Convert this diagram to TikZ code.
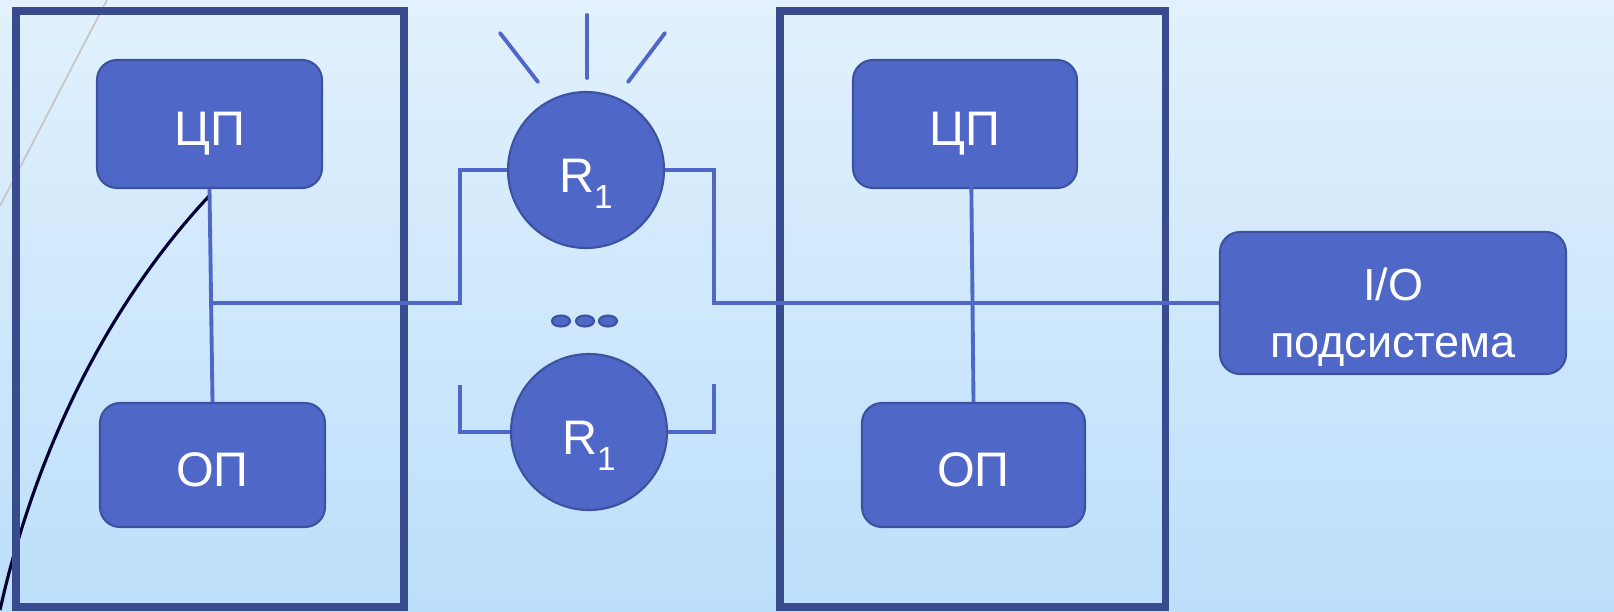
\documentclass[tikz,border=0pt]{standalone}
\usepackage{fontspec}
\setmainfont{Liberation Sans}
\usepackage{xcolor}
\usetikzlibrary{calc}
\definecolor{boxblue}{HTML}{4F67C7}
\definecolor{boxedge}{HTML}{3C52A0}
\definecolor{frameblue}{HTML}{394B8F}
\definecolor{bgtop}{HTML}{E2F1FD}
\definecolor{bgbot}{HTML}{BCDFFB}
\begin{document}
\begin{tikzpicture}[-, box node/.style={rectangle, rounded corners=0.2cm, draw=boxedge, line width=0.6pt, fill=boxblue, text=white, font=\fontsize{13.8}{16}\selectfont, inner sep=0pt, text height=0.42cm, text depth=0pt}, ring node/.style={circle, draw=boxedge, line width=0.6pt, fill=boxblue, text=white, font=\fontsize{13.8}{16}\selectfont, minimum size=1.56cm, inner sep=0pt, text height=0.44cm, text depth=0pt}, wire/.style={draw=boxblue, line width=1.1pt}, frame/.style={draw=frameblue, line width=2pt}]
\useasboundingbox (0,0) rectangle (16.14,6.11);
\shade[top color=bgtop, bottom color=bgbot] (0,0) rectangle (16.14,6.11);
\clip (0,0) rectangle (16.14,6.11);
% slide decoration
\draw[gray!45, line width=0.5pt] (1.07,6.11) .. controls (0.70,5.40) .. (0,4.05);
\draw[black!80!blue, line width=0.9pt] (2.10,4.16) .. controls (1.20,3.20) and (0.40,1.80) .. (0,0.01);
\draw[frame] (0.16,6.00) rectangle (4.04,0.04);
\draw[frame] (7.80,6.00) rectangle (11.65,0.04);
\node[box node, minimum width=2.25cm, minimum height=1.28cm] (c1) at (2.095,4.87) {ЦП};
\node[box node, minimum width=2.25cm, minimum height=1.24cm] (m1) at (2.125,1.46) {ОП};
\node[box node, minimum width=2.24cm, minimum height=1.28cm] (c2) at (9.65,4.87) {ЦП};
\node[box node, minimum width=2.23cm, minimum height=1.24cm] (m2) at (9.735,1.46) {ОП};
\node[box node, minimum width=3.46cm, minimum height=1.42cm, align=center, font=\fontsize{12.8}{16.2}\selectfont, text height=1.08cm] (io) at (13.93,3.08) {I/O\\подсистема};
\node[ring node] (r1) at (5.86,4.41) {R\raisebox{-4.8pt}{\fontsize{9.5}{10}\selectfont 1}};
\node[ring node] (r2) at (5.89,1.79) {R\raisebox{-4.8pt}{\fontsize{9.5}{10}\selectfont 1}};
\coordinate (j1) at (2.095,3.08);
\coordinate (t2) at (9.71,4.58);
\foreach \x in {5.61,5.85,6.08}
  \draw[draw=boxedge, fill=boxblue, line width=0.6pt] (\x,2.90) ellipse (0.09cm and 0.055cm);
\path[wire, line cap=round]
(5.00,5.78) edge (5.38,5.29)
(5.87,5.96) edge (5.87,5.33)
(6.65,5.78) edge (6.28,5.29);
\path[wire]
(c1.south) edge (m1.north)
(t2) edge (m2.north);
\draw[wire] (j1) -- (4.60,3.08) -- (4.60,4.41) -- (r1.west);
\draw[wire] (r1.east) -- (7.14,4.41) -- (7.14,3.08) -- (io.west);
\draw[wire] (4.60,2.26) -- (4.60,1.79) -- (r2.west);
\draw[wire] (r2.east) -- (7.14,1.79) -- (7.14,2.27);
\end{tikzpicture}
\end{document}
